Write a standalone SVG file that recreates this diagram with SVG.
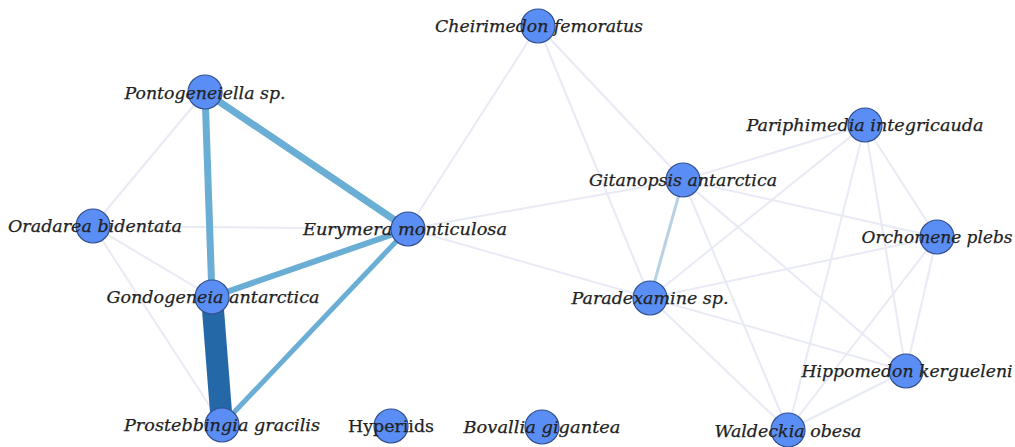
<svg xmlns="http://www.w3.org/2000/svg" width="1015" height="447" viewBox="0 0 1015 447">
<style>
.bg{fill:#ffffff}
.faint{stroke:#e8eaf5;stroke-width:2;fill:none}
.mid{stroke:#6aaed5;fill:none}
.light{stroke:#b8d2e2;stroke-width:3;fill:none}
.dark{stroke:#2468a8;fill:none}
.node circle{fill:#5b8ef4;stroke:#32508e;stroke-width:1.2}
.node text{font-family:"DejaVu Serif","Liberation Serif",serif;font-style:italic;font-size:17px;fill:#222222;text-anchor:middle;stroke:#222222;stroke-width:0.25}
.node text.up{font-style:normal}
</style>
<rect class="bg" x="0" y="0" width="1015" height="447"/>
<g id="connectors">
<line class="faint" x1="205" y1="92" x2="93" y2="226"/>
<line class="faint" x1="93" y1="226" x2="408" y2="229"/>
<line class="faint" x1="93" y1="226" x2="212" y2="297"/>
<line class="faint" x1="93" y1="226" x2="222" y2="425"/>
<line class="faint" x1="408" y1="229" x2="538" y2="26"/>
<line class="faint" x1="408" y1="229" x2="683" y2="180"/>
<line class="faint" x1="408" y1="229" x2="650" y2="298"/>
<line class="faint" x1="538" y1="26" x2="683" y2="180"/>
<line class="faint" x1="538" y1="26" x2="650" y2="298"/>
<line class="faint" x1="683" y1="180" x2="865" y2="125"/>
<line class="faint" x1="683" y1="180" x2="937" y2="237"/>
<line class="faint" x1="683" y1="180" x2="906" y2="371"/>
<line class="faint" x1="683" y1="180" x2="788" y2="430"/>
<line class="faint" x1="650" y1="298" x2="865" y2="125"/>
<line class="faint" x1="650" y1="298" x2="937" y2="237"/>
<line class="faint" x1="650" y1="298" x2="906" y2="371"/>
<line class="faint" x1="650" y1="298" x2="788" y2="430"/>
<line class="faint" x1="865" y1="125" x2="937" y2="237"/>
<line class="faint" x1="865" y1="125" x2="906" y2="371"/>
<line class="faint" x1="865" y1="125" x2="788" y2="430"/>
<line class="faint" x1="937" y1="237" x2="906" y2="371"/>
<line class="faint" x1="937" y1="237" x2="788" y2="430"/>
<line class="faint" x1="906" y1="371" x2="788" y2="430"/>
<line class="light" x1="683" y1="180" x2="650" y2="298"/>
<line class="mid" stroke-width="7" x1="205" y1="92" x2="408" y2="229"/>
<line class="mid" stroke-width="7" x1="205" y1="92" x2="212" y2="297"/>
<line class="mid" stroke-width="6" x1="212" y1="297" x2="408" y2="229"/>
<line class="mid" stroke-width="5" x1="222" y1="425" x2="408" y2="229"/>
<line class="dark" stroke-width="22" x1="212" y1="297" x2="222" y2="425"/>
</g>
<g id="node-cheirimedon" class="node"><circle cx="538" cy="26" r="17"/><text x="539" y="32" textLength="208" lengthAdjust="spacingAndGlyphs">Cheirimedon femoratus</text></g>
<g id="node-pontogeneiella" class="node"><circle cx="205" cy="92" r="17"/><text x="205" y="99" textLength="161" lengthAdjust="spacingAndGlyphs">Pontogeneiella sp.</text></g>
<g id="node-pariphimedia" class="node"><circle cx="865" cy="125" r="17"/><text x="865" y="131" textLength="237" lengthAdjust="spacingAndGlyphs">Pariphimedia integricauda</text></g>
<g id="node-gitanopsis" class="node"><circle cx="683" cy="180" r="17"/><text x="683" y="186" textLength="188" lengthAdjust="spacingAndGlyphs">Gitanopsis antarctica</text></g>
<g id="node-oradarea" class="node"><circle cx="93" cy="226" r="17"/><text x="95" y="232" textLength="174" lengthAdjust="spacingAndGlyphs">Oradarea bidentata</text></g>
<g id="node-eurymera" class="node"><circle cx="408" cy="229" r="17"/><text x="405" y="235" textLength="204" lengthAdjust="spacingAndGlyphs">Eurymera monticulosa</text></g>
<g id="node-orchomene" class="node"><circle cx="937" cy="237" r="17"/><text x="937" y="243" textLength="151" lengthAdjust="spacingAndGlyphs">Orchomene plebs</text></g>
<g id="node-gondogeneia" class="node"><circle cx="212" cy="297" r="17"/><text x="213" y="303" textLength="213" lengthAdjust="spacingAndGlyphs">Gondogeneia antarctica</text></g>
<g id="node-paradexamine" class="node"><circle cx="650" cy="298" r="17"/><text x="650" y="304" textLength="157" lengthAdjust="spacingAndGlyphs">Paradexamine sp.</text></g>
<g id="node-hippomedon" class="node"><circle cx="906" cy="371" r="17"/><text x="907" y="377" textLength="211" lengthAdjust="spacingAndGlyphs">Hippomedon kergueleni</text></g>
<g id="node-prostebbingia" class="node"><circle cx="222" cy="425" r="17"/><text x="222" y="431" textLength="196" lengthAdjust="spacingAndGlyphs">Prostebbingia gracilis</text></g>
<g id="node-hyperiids" class="node"><circle cx="391" cy="426" r="17"/><text class="up" x="391" y="432" textLength="86" lengthAdjust="spacingAndGlyphs">Hyperiids</text></g>
<g id="node-bovallia" class="node"><circle cx="542" cy="427" r="17"/><text x="542" y="433" textLength="157" lengthAdjust="spacingAndGlyphs">Bovallia gigantea</text></g>
<g id="node-waldeckia" class="node"><circle cx="788" cy="430" r="17"/><text x="788" y="437" textLength="147" lengthAdjust="spacingAndGlyphs">Waldeckia obesa</text></g>
</svg>
